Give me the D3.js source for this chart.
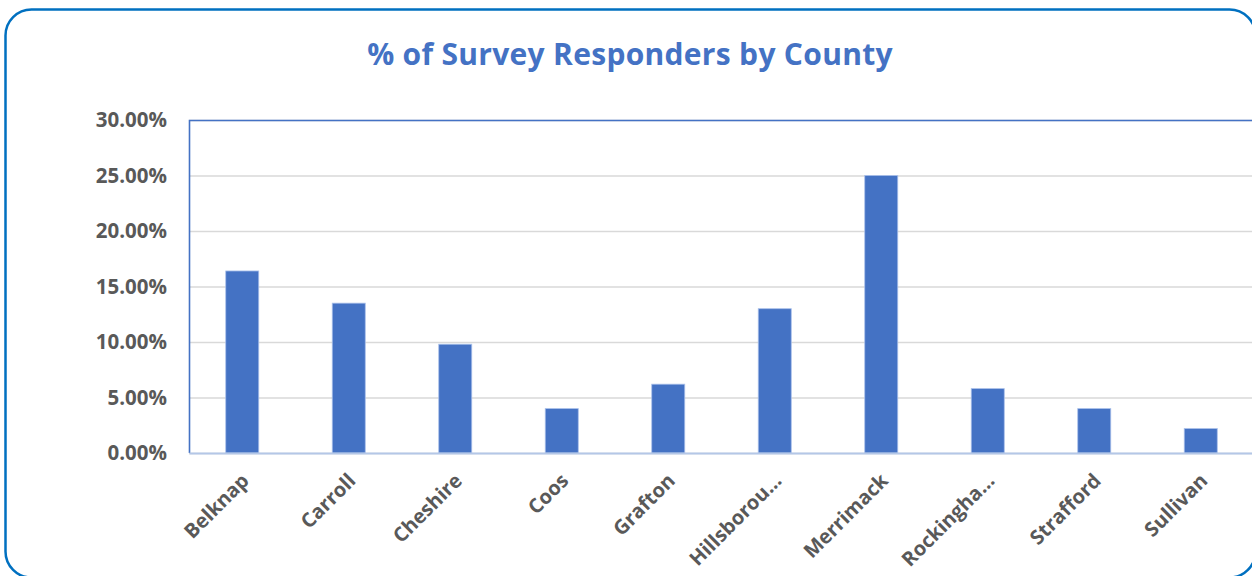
<!DOCTYPE html>
<html>
<head>
<meta charset="utf-8">
<script src="https://d3js.org/d3.v7.min.js"></script>
<style>
  body { margin: 0; background: #fff; }
  svg { display: block; }
</style>
</head>
<body>
<div id="chart-area"></div>
<script>
//============================DATA============================
var counties = ["Belknap", "Carroll", "Cheshire", "Coos", "Grafton",
    "Hillsborough", "Merrimack", "Rockingham", "Strafford", "Sullivan"];
// shown names (Excel cuts the long ones)
var countyLabels = ["Belknap", "Carroll", "Cheshire", "Coos", "Grafton",
    "Hillsborou\u2026", "Merrimack", "Rockingha\u2026", "Strafford", "Sullivan"];
var sharePct = [16.4, 13.5, 9.8, 4.0, 6.2, 13.0, 25.0, 5.8, 4.0, 2.2];
var yTicks = [0, 5, 10, 15, 20, 25, 30];

//============================LAYOUT============================
var W = 1252, H = 576;
var margins = { left: 189, top: 120, right: -2, bottom: 123 };
var width = W - margins.left - margins.right;
var height = H - margins.top - margins.bottom;

var svg = d3.select("#chart-area")
    .append("svg")
    .attr("width", W)
    .attr("height", H);

// outer rounded frame
svg.append("rect")
    .attr("x", 5.5).attr("y", 9.5)
    .attr("width", 1250).attr("height", 568)
    .attr("rx", 26).attr("ry", 26)
    .attr("fill", "#fff")
    .attr("stroke", "#0070C0")
    .attr("stroke-width", 2.5);

// title
svg.append("text")
    .attr("x", 630)
    .attr("y", 65)
    .attr("text-anchor", "middle")
    .attr("font-family", "'Open Sans', sans-serif")
    .attr("font-weight", "bold")
    .attr("font-size", "30px")
    .attr("letter-spacing", "0.3px")
    .attr("fill", "#4472C4")
    .text("% of Survey Responders by County");

var g = svg.append("g")
    .attr("transform", "translate(" + margins.left + "," + margins.top + ")");

//============================SCALES============================
var x = d3.scaleBand()
    .domain(counties)
    .range([0, width])
    .paddingInner(0.69)
    .paddingOuter(0.345);

var y = d3.scaleLinear()
    .domain([0, 30])
    .range([height, 0]);

// gridlines
var yAxisCall = d3.axisLeft(y)
    .tickValues(yTicks)
    .tickSize(-width)
    .tickPadding(22)
    .tickFormat(function(d){ return d.toFixed(2) + "%"; });

var yAxis = g.append("g")
    .attr("class", "y axis")
    .call(yAxisCall);
yAxis.select(".domain").remove();
yAxis.selectAll("line")
    .attr("stroke", "#D9D9D9")
    .attr("stroke-width", 1.6);
yAxis.selectAll("text")
    .attr("font-family", "'Open Sans', sans-serif")
    .attr("font-weight", "bold")
    .attr("font-size", "20.5px")
    .attr("fill", "#595959");

// plot frame left + top
g.append("path")
    .attr("d", "M0.5," + height + "V0.5H" + (width + 10))
    .attr("fill", "none")
    .attr("stroke", "#4472C4")
    .attr("stroke-width", 1.6);

//============================BARS============================
g.selectAll("rect.bar")
    .data(sharePct)
    .enter()
    .append("rect")
    .attr("class", "bar")
    .attr("x", function(d, i){ return x(counties[i]); })
    .attr("y", function(d){ return y(d); })
    .attr("width", x.bandwidth())
    .attr("height", function(d){ return height - y(d); })
    .attr("fill", "#4472C4")
    .attr("stroke", "#A9C0EA")
    .attr("stroke-width", 0.8);

// x axis
var xAxisCall = d3.axisBottom(x)
    .tickSize(0)
    .tickFormat(function(d, i){ return countyLabels[i]; });

var xAxis = g.append("g")
    .attr("class", "x axis")
    .attr("transform", "translate(0," + height + ")")
    .call(xAxisCall);
xAxis.select(".domain")
    .attr("stroke", "#B4C7E7")
    .attr("stroke-width", 2.2);
xAxis.selectAll("text")
    .attr("font-family", "'Open Sans', sans-serif")
    .attr("font-weight", "bold")
    .attr("font-size", "20px")
    .attr("fill", "#595959")
    .attr("text-anchor", "end")
    .attr("dy", "0.7em")
    .attr("transform", "translate(-4,17) rotate(-45)");
</script>
</body>
</html>
